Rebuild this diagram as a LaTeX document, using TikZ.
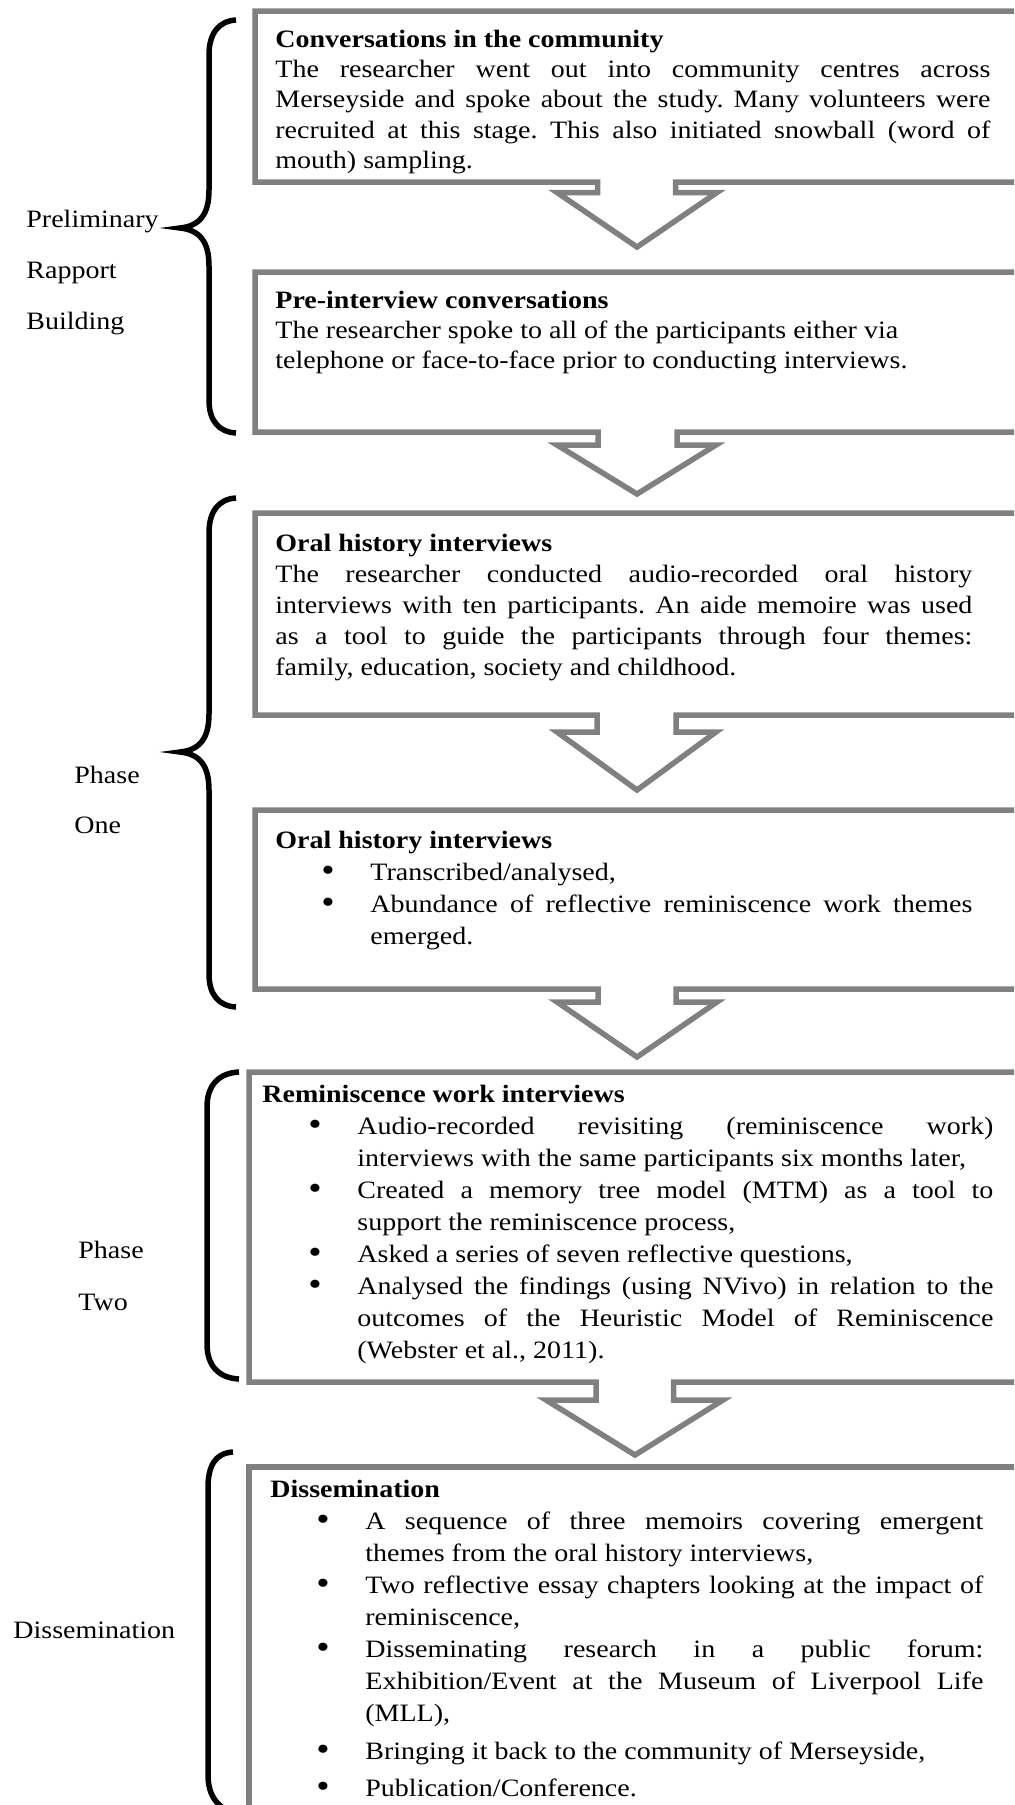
\documentclass[tikz,border=0pt]{standalone}
\usepackage{fontspec}
\setmainfont{Liberation Serif}[FakeStretch=1.12]
\definecolor{boxgrey}{RGB}{128,128,128}

% natural (stretchable) interword spaces, no extra space after full stops
\newcommand{\nsp}{\frenchspacing\spaceskip=0pt\xspaceskip=0pt\relax}
% line helpers: justified line, bullet line, indented lines
\newlength{\bulletpos}\setlength{\bulletpos}{23pt}
\newlength{\itemind}\setlength{\itemind}{47.5pt}
\newcommand{\bulletglyph}{{\fontsize{17}{17}\selectfont\raisebox{-0.6pt}{•}}}
\newcommand{\jl}[1]{\makebox[\linewidth][s]{\nsp#1}}
\newcommand{\bl}{\makebox[\itemind][l]{\hspace{\bulletpos}\bulletglyph}}
\newcommand{\bjl}[1]{\bl\makebox[\dimexpr\linewidth-\itemind\relax][s]{\nsp#1}}
\newcommand{\il}{\hspace*{\itemind}}
\newcommand{\ijl}[1]{\il\makebox[\dimexpr\linewidth-\itemind\relax][s]{\nsp#1}}

\tikzset{
  frame/.style={draw=boxgrey, line width=2.75pt, line join=miter, miter limit=10},
  bracket/.style={draw=black, line width=2.75pt},
  boxtext/.style={inner sep=0pt, anchor=base west, align=left},
  side/.style={inner sep=0pt, anchor=base west, font=\fontsize{12.5}{15}\selectfont}
}

\begin{document}
\begin{tikzpicture}[x=0.5pt, y=-0.5pt]
\useasboundingbox (0,0) rectangle (1014,1805);
\clip (0,0) rectangle (1014,1805);

% ---- boxes with their outgoing block arrows ----
\draw[frame] (1040,11) -- (255,11) -- (255,182) -- (597.5,182) -- (597.5,192.5)
  -- (557,192.5) -- (637,247) -- (717,192.5) -- (675.5,192.5) -- (675.5,182) -- (1040,182);
\draw[frame] (1040,272) -- (255,272) -- (255,432) -- (598,432) -- (598,445)
  -- (557,445) -- (637,494) -- (716,445) -- (677,445) -- (677,432) -- (1040,432);
\draw[frame] (1040,513) -- (255,513) -- (255,715) -- (597,715) -- (597,732)
  -- (557,732) -- (637,790) -- (716,732) -- (676,732) -- (676,715) -- (1040,715);
\draw[frame] (1040,810) -- (255,810) -- (255,989) -- (598,989) -- (598,1002)
  -- (557,1002) -- (637,1057) -- (717,1002) -- (676,1002) -- (676,989) -- (1040,989);
\draw[frame] (1040,1072) -- (249,1072) -- (249,1382) -- (596,1382) -- (596,1400)
  -- (546,1400) -- (635,1455) -- (723,1400) -- (673.5,1400) -- (673.5,1382) -- (1040,1382);
\draw[frame] (1040,1467) -- (249,1467) -- (249,1840);

% ---- braces ----
\draw[bracket] (236,20) .. controls (219,21) and (209,33) .. (209,55) -- (209,190)
  .. controls (209,214) and (200,226) .. (180,228)
  .. controls (200,230) and (209,242) .. (209,266) -- (209,400)
  .. controls (209,421) and (219,432) .. (236,433);
\draw[bracket] (236,498) .. controls (219,499) and (209,511) .. (209,533) -- (209,714)
  .. controls (209,738) and (200,750) .. (180,752)
  .. controls (200,754) and (209,766) .. (209,790) -- (209,974)
  .. controls (209,995) and (219,1006) .. (236,1007);
\draw[bracket] (239,1072) .. controls (219,1073) and (207,1085) .. (207,1107) -- (207,1344)
  .. controls (207,1366) and (219,1378) .. (239,1379);
\draw[bracket] (233,1452) .. controls (215,1453) and (208,1466) .. (208,1488) -- (208,1775)
  .. controls (208,1796) and (218,1810) .. (240,1815);

% ---- side labels ----
\node[side] (prelimA) at (26,227) {Preliminary};
\node[side] (prelimB) at (26,278) {Rapport};
\node[side] (prelimC) at (26,329) {Building};
\node[side] (oneA) at (74,783) {Phase};
\node[side] (oneB) at (74,833) {One};
\node[side] (twoA) at (78,1258) {Phase};
\node[side] (twoB) at (78,1310) {Two};
\node[side] (dissem) at (13,1638) {Dissemination};

% ---- box texts ----
\node[boxtext, text width=357.5pt, font=\fontsize{12.5}{15.2}\selectfont] (community) at (275,47)
  {\nsp\textbf{Conversations in the community}\\
   \jl{The researcher went out into community centres across}\\
   \jl{Merseyside and spoke about the study. Many volunteers were}\\
   \jl{recruited at this stage. This also initiated snowball (word of}\\
   mouth) sampling.};

\node[boxtext, text width=357.5pt, font=\fontsize{12.5}{15}\selectfont] (preint) at (275,308)
  {\nsp\textbf{Pre-interview conversations}\\
   The researcher spoke to all of the participants either via\\
   telephone or face-to-face prior to conducting interviews.};

\node[boxtext, text width=348.5pt, font=\fontsize{12.5}{15.6}\selectfont] (oral) at (275,551)
  {\nsp\textbf{Oral history interviews}\\
   \jl{The researcher conducted audio-recorded oral history}\\
   \jl{interviews with ten participants. An aide memoire was used}\\
   \jl{as a tool to guide the participants through four themes:}\\
   family, education, society and childhood.};

\node[boxtext, text width=348.5pt, font=\fontsize{12.5}{16}\selectfont] (oraltwo) at (275,848)
  {\nsp\textbf{Oral history interviews}\\
   \bl Transcribed/analysed,\\
   \bjl{Abundance of reflective reminiscence work themes}\\
   \il emerged.};

\node[boxtext, text width=365.5pt, font=\fontsize{12.5}{16}\selectfont] (remin) at (262,1102)
  {\nsp\textbf{Reminiscence work interviews}\\
   \bjl{Audio-recorded revisiting (reminiscence work)}\\
   \il interviews with the same participants six months later,\\
   \bjl{Created a memory tree model (MTM) as a tool to}\\
   \il support the reminiscence process,\\
   \bl Asked a series of seven reflective questions,\\
   \bjl{Analysed the findings (using NVivo) in relation to the}\\
   \ijl{outcomes of the Heuristic Model of Reminiscence}\\
   \il (Webster et al., 2011).};

\node[boxtext, text width=356.5pt, font=\fontsize{12.5}{16}\selectfont] (dissbox) at (270,1497)
  {\nsp\textbf{Dissemination}\\
   \bjl{A sequence of three memoirs covering emergent}\\
   \il themes from the oral history interviews,\\
   \bjl{Two reflective essay chapters looking at the impact of}\\
   \il reminiscence,\\
   \bjl{Disseminating research in a public forum:}\\
   \ijl{Exhibition/Event at the Museum of Liverpool Life}\\
   \il (MLL),\\[3pt]
   \bl Bringing it back to the community of Merseyside,\\[2.5pt]
   \bl Publication/Conference.};
\end{tikzpicture}
\end{document}
